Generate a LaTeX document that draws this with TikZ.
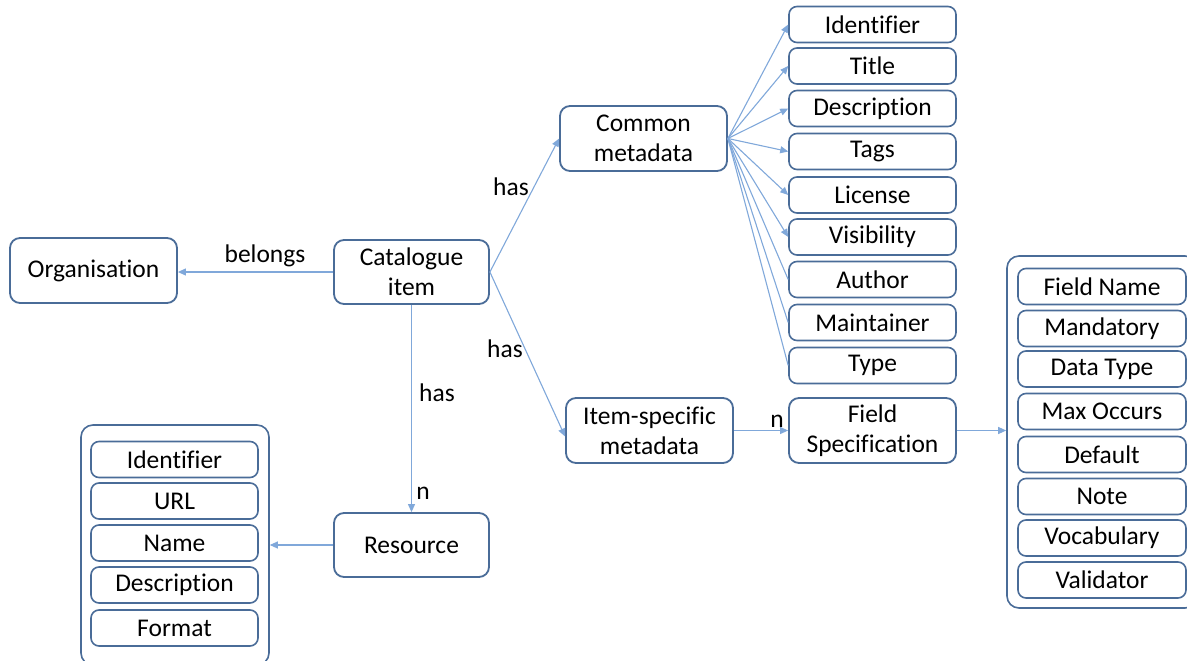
\documentclass[tikz,border=0pt]{standalone}
\usepackage{fontspec}
\setmainfont[Ligatures=NoCommon]{Carlito}
\usetikzlibrary{arrows.meta}
\definecolor{boxline}{RGB}{74,108,152}
\definecolor{linkline}{RGB}{128,168,218}
\tikzset{
  entity/.style={draw=boxline, line width=1.8pt, rounded corners=10pt, fill=white,
    inner sep=0pt, align=center, minimum height=65, minimum width=#1},
  entity/.default=167,
  field/.style={draw=boxline, line width=1.6pt, rounded corners=8pt, fill=white,
    inner sep=0pt, minimum width=167, minimum height=36},
  group/.style={draw=boxline, line width=1.6pt, rounded corners=12pt,
    inner sep=0pt, minimum width=#1},
  link/.style={draw=linkline, line width=1.1pt, -{Triangle[length=8pt,width=7pt]}},
  plainlink/.style={draw=linkline, line width=1.1pt},
  tag/.style={inner sep=0pt}
}
\begin{document}
\begin{tikzpicture}[x=1pt, y=-1pt, font=\fontsize{25.5}{30}\selectfont]
\useasboundingbox (0,0) rectangle (1187,661);

% main entities
\node[entity] (org) at (93.5,270.5) {Organisation};
\node[entity=155, minimum height=64] (ci) at (411.5,272) {Catalogue\\item};
\node[entity] (cm) at (643.5,138.5) {Common\\metadata};
\node[entity] (ism) at (649.5,430.5) {Item-specific\\metadata};
\node[entity] (fs) at (872.5,430.5) {Field\\Specification};
\node[entity=155, minimum height=64] (res) at (411.5,545) {Resource};

% common metadata fields
\node[field] (c1) at (872.5,24.5) {Identifier};
\node[field] (c2) at (872.5,66) {Title};
\node[field] (c3) at (872.5,108.5) {Description};
\node[field] (c4) at (872.5,151.5) {Tags};
\node[field] (c5) at (872.5,195) {License};
\node[field] (c6) at (872.5,237) {Visibility};
\node[field] (c7) at (872.5,279.5) {Author};
\node[field] (c8) at (872.5,322.5) {Maintainer};
\node[field] (c9) at (872.5,365.5) {Type};

% resource attributes
\node[group=188, minimum height=240] (rg) at (175,545) {};
\node[field] (r1) at (174.5,459.5) {Identifier};
\node[field] (r2) at (174.5,501) {URL};
\node[field] (r3) at (174.5,543) {Name};
\node[field] (r4) at (174.5,585) {Description};
\node[field] (r5) at (174.5,628) {Format};

% field specification attributes
\node[group=190, minimum height=352] (fg) at (1102,432) {};
\node[field, minimum width=168] (f1) at (1102,286.5) {Field Name};
\node[field, minimum width=168] (f2) at (1102,328.5) {Mandatory};
\node[field, minimum width=168] (f3) at (1102,369) {Data Type};
\node[field, minimum width=168] (f4) at (1102,411.5) {Max Occurs};
\node[field, minimum width=168] (f5) at (1102,454.5) {Default};
\node[field, minimum width=168] (f6) at (1102,496.5) {Note};
\node[field, minimum width=168] (f7) at (1102,538) {Vocabulary};
\node[field, minimum width=168] (f8) at (1102,580) {Validator};

% relations
\draw[link] (ci.west) -- (ci.west -| org.east);
\draw[link] (ci.east) -- (cm.west);
\draw[link] (ci.east) -- ([yshift=-6]ism.west);
\draw[link] (ci.south) -- (res.north);
\draw[link] (res.west) -- (res.west -| rg.east);
\draw[link] (ism.east) -- (ism.east -| fs.west);
\draw[link] (fs.east) -- (fs.east -| fg.west);

% fan of common metadata fields
\foreach \k in {1,...,6} \draw[link] (cm.east) -- (c\k.west);
\foreach \k in {7,8,9} \draw[plainlink] (cm.east) -- (c\k.west);

% relation labels
\node[tag] (lb) at (265,256) {belongs};
\node[tag] (lh1) at (511,187) {has};
\node[tag] (lh2) at (505,349) {has};
\node[tag] (lh3) at (437,393) {has};
\node[tag] (ln1) at (423,493) {n};
\node[tag] (ln2) at (777,421) {n};
\end{tikzpicture}
\end{document}
